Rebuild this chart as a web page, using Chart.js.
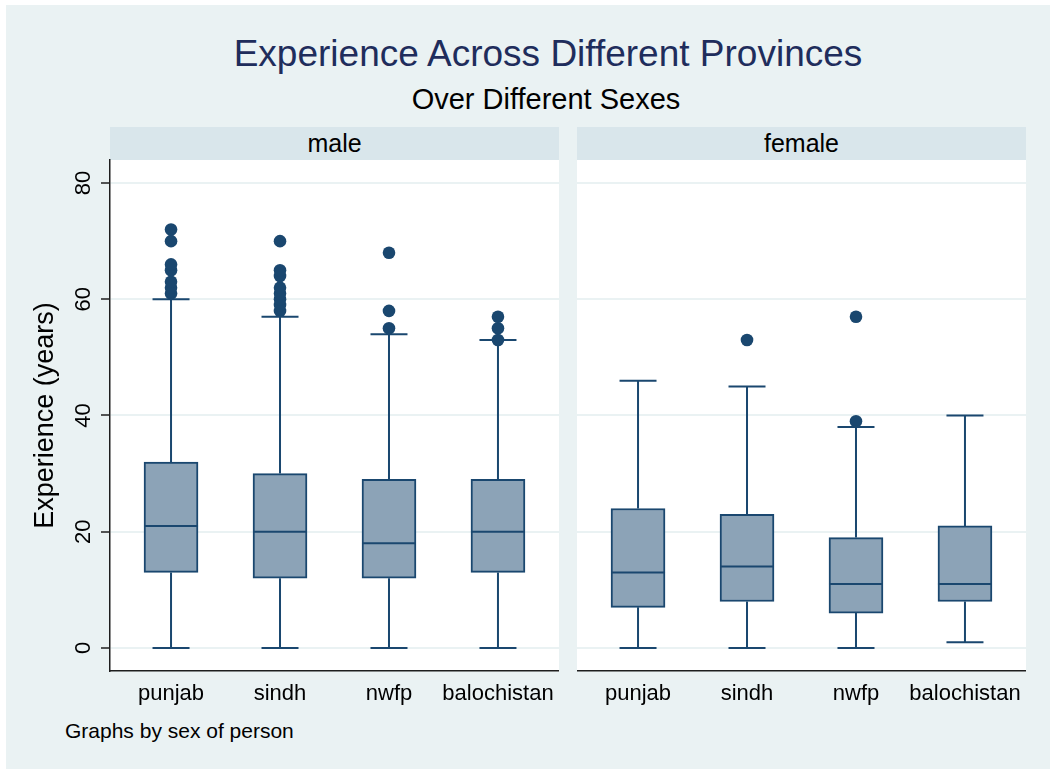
<!DOCTYPE html>
<html>
<head>
<meta charset="utf-8">
<title>Experience Across Different Provinces</title>
<script src="https://cdn.jsdelivr.net/npm/chart.js@4.4.1/dist/chart.umd.min.js"></script>
<style>
  html, body { margin: 0; padding: 0; background: #ffffff; width: 1050px; height: 770px; overflow: hidden;
    font-family: "Liberation Sans", Arial, Helvetica, sans-serif; }
  #frame { position: absolute; left: 6px; top: 5px; width: 1044px; height: 764px; background: #eaf2f3; }
  .txt { position: absolute; white-space: nowrap; }
  #title { left: 0; width: 1096px; text-align: center; top: 35px; font-size: 37px; line-height: 37px; color: #1f2d5c; }
  #subtitle { left: 0; width: 1092px; text-align: center; top: 85px; font-size: 29px; line-height: 29px; color: #000; }
  .strip { position: absolute; top: 127px; height: 33px; line-height: 33px; width: 449px; background: #d9e6eb;
    text-align: center; font-size: 25px; color: #000; }
  #note { left: 65px; top: 720px; font-size: 21px; line-height: 21px; color: #000; }
  .panel { position: absolute; top: 140px; }
  canvas { display: block; }
</style>
</head>
<body>
<div id="frame"></div>
<div class="txt" id="title">Experience Across Different Provinces</div>
<div class="txt" id="subtitle">Over Different Sexes</div>
<div class="strip" style="left:110px">male</div>
<div class="strip" style="left:577px">female</div>
<div class="panel" style="left:10px"><canvas id="male" width="549" height="576"></canvas></div>
<div class="panel" style="left:577px"><canvas id="female" width="449" height="576"></canvas></div>
<div class="txt" id="note">Graphs by sex of person</div>

<script>
// Provinces on the x axis and y-axis ticks
const provinces = ['punjab', 'sindh', 'nwfp', 'balochistan'];
const yTicks = [0, 20, 40, 60, 80];

// Male: whisker ends, quartiles, median and outside values
const maleLower  = [0, 0, 0, 0];
const maleQ1     = [13, 12, 12, 13];
const maleMedian = [21, 20, 18, 20];
const maleQ3     = [32, 30, 29, 29];
const maleUpper  = [60, 57, 54, 53];
const maleOutliers = [
  [61, 62, 63, 65, 66, 70, 72],
  [58, 59, 60, 61, 62, 64, 65, 70],
  [55, 58, 68],
  [53, 55, 57]
];

// Female: whisker ends, quartiles, median and outside values
const femaleLower  = [0, 0, 0, 1];
const femaleQ1     = [7, 8, 6, 8];
const femaleMedian = [13, 14, 11, 11];
const femaleQ3     = [24, 23, 19, 21];
const femaleUpper  = [46, 45, 38, 40];
const femaleOutliers = [
  [],
  [53],
  [39, 57],
  []
];

const NAVY = 'rgb(26,71,111)';
const BOX_FILL = 'rgb(140,163,183)';
const GRID = 'rgb(234,242,243)';
const AXIS = 'rgb(30,30,30)';

Chart.defaults.font.family = '"Liberation Sans", Arial, Helvetica, sans-serif';
Chart.defaults.color = '#000';

// White plot region behind the grid
const plotBackground = {
  id: 'plotBackground',
  beforeDraw(chart) {
    const { ctx, chartArea: a } = chart;
    ctx.save();
    ctx.fillStyle = '#ffffff';
    ctx.fillRect(a.left, a.top, a.right - a.left, a.bottom - a.top);
    ctx.restore();
  }
};

// Whiskers, caps and median lines, placed with the chart's own scales
function boxWhiskers(lower, q1, median, q3, upper) {
  return {
    id: 'boxWhiskers',
    beforeDatasetsDraw(chart) {
      const { ctx, scales: { x, y } } = chart;
      const capHalf = 18.5;
      ctx.save();
      ctx.strokeStyle = NAVY;
      ctx.lineWidth = 2;
      lower.forEach((lo, i) => {
        const cx = x.getPixelForValue(i);
        const yLo = y.getPixelForValue(lo);
        const yHi = y.getPixelForValue(upper[i]);
        const yQ1 = y.getPixelForValue(q1[i]);
        const yQ3 = y.getPixelForValue(q3[i]);
        ctx.beginPath();
        ctx.moveTo(cx, yQ3); ctx.lineTo(cx, yHi);
        ctx.moveTo(cx, yQ1); ctx.lineTo(cx, yLo);
        ctx.moveTo(cx - capHalf, yHi); ctx.lineTo(cx + capHalf, yHi);
        ctx.moveTo(cx - capHalf, yLo); ctx.lineTo(cx + capHalf, yLo);
        ctx.stroke();
      });
      ctx.restore();
    },
    afterDatasetsDraw(chart) {
      const { ctx, scales: { x, y } } = chart;
      const half = 27;
      ctx.save();
      ctx.strokeStyle = NAVY;
      ctx.lineWidth = 2;
      median.forEach((m, i) => {
        const cx = x.getPixelForValue(i);
        const ym = y.getPixelForValue(m);
        ctx.beginPath();
        ctx.moveTo(cx - half, ym); ctx.lineTo(cx + half, ym);
        ctx.stroke();
      });
      ctx.restore();
    }
  };
}

function makePanel(id, lower, q1, median, q3, upper, outliers, showYAxis) {
  const outlierPoints = [];
  outliers.forEach((vals, i) => vals.forEach(v => outlierPoints.push({ x: i, y: v })));
  const boxes = provinces.map((p, i) => ({ x: i, y: [q1[i], q3[i]] }));

  return new Chart(document.getElementById(id), {
    type: 'bar',
    data: {
      datasets: [
        {
          type: 'scatter',
          data: outlierPoints,
          pointRadius: 6.3,
          pointHoverRadius: 6.3,
          pointBackgroundColor: NAVY,
          pointBorderWidth: 0,
          showLine: false
        },
        {
          type: 'bar',
          data: boxes,
          backgroundColor: BOX_FILL,
          borderColor: NAVY,
          borderWidth: 2,
          borderSkipped: false,
          barThickness: 54
        }
      ]
    },
    options: {
      responsive: false,
      animation: false,
      events: [],
      layout: { autoPadding: false, padding: { top: 20, left: 0, right: 0, bottom: 0 } },
      plugins: { legend: { display: false }, tooltip: { enabled: false }, title: { display: false } },
      scales: {
        x: {
          type: 'linear',
          min: -0.56,
          max: 3.56,
          offset: false,
          afterBuildTicks: s => { s.ticks = provinces.map((p, i) => ({ value: i })); },
          afterFit: s => { s.height = 45; s.paddingLeft = 0; s.paddingRight = 0; },
          grid: { display: false, drawTicks: false, offset: false },
          border: { display: true, color: AXIS, width: 1.5 },
          ticks: {
            autoSkip: false,
            maxRotation: 0,
            padding: 10,
            font: { size: 22 },
            color: '#000',
            callback: v => provinces[v]
          }
        },
        y: {
          type: 'linear',
          min: -3.96,
          max: 83.96,
          afterBuildTicks: s => { s.ticks = yTicks.map(v => ({ value: v })); },
          afterFit: s => { s.width = showYAxis ? 100 : 0; s.paddingTop = 0; s.paddingBottom = 0; },
          grid: {
            color: GRID,
            lineWidth: 2,
            drawTicks: showYAxis,
            tickLength: 9,
            tickColor: AXIS,
            tickWidth: 1.5
          },
          border: { display: showYAxis, color: AXIS, width: 1.5 },
          ticks: {
            display: showYAxis,
            minRotation: 90,
            maxRotation: 90,
            crossAlign: 'center',
            padding: 5,
            font: { size: 22 },
            color: '#000'
          },
          title: {
            display: showYAxis,
            text: 'Experience (years)',
            font: { size: 27 },
            color: '#000',
            padding: { top: 19, bottom: 0 }
          }
        }
      }
    },
    plugins: [plotBackground, boxWhiskers(lower, q1, median, q3, upper)]
  });
}

makePanel('male', maleLower, maleQ1, maleMedian, maleQ3, maleUpper, maleOutliers, true);
makePanel('female', femaleLower, femaleQ1, femaleMedian, femaleQ3, femaleUpper, femaleOutliers, false);
</script>
</body>
</html>
